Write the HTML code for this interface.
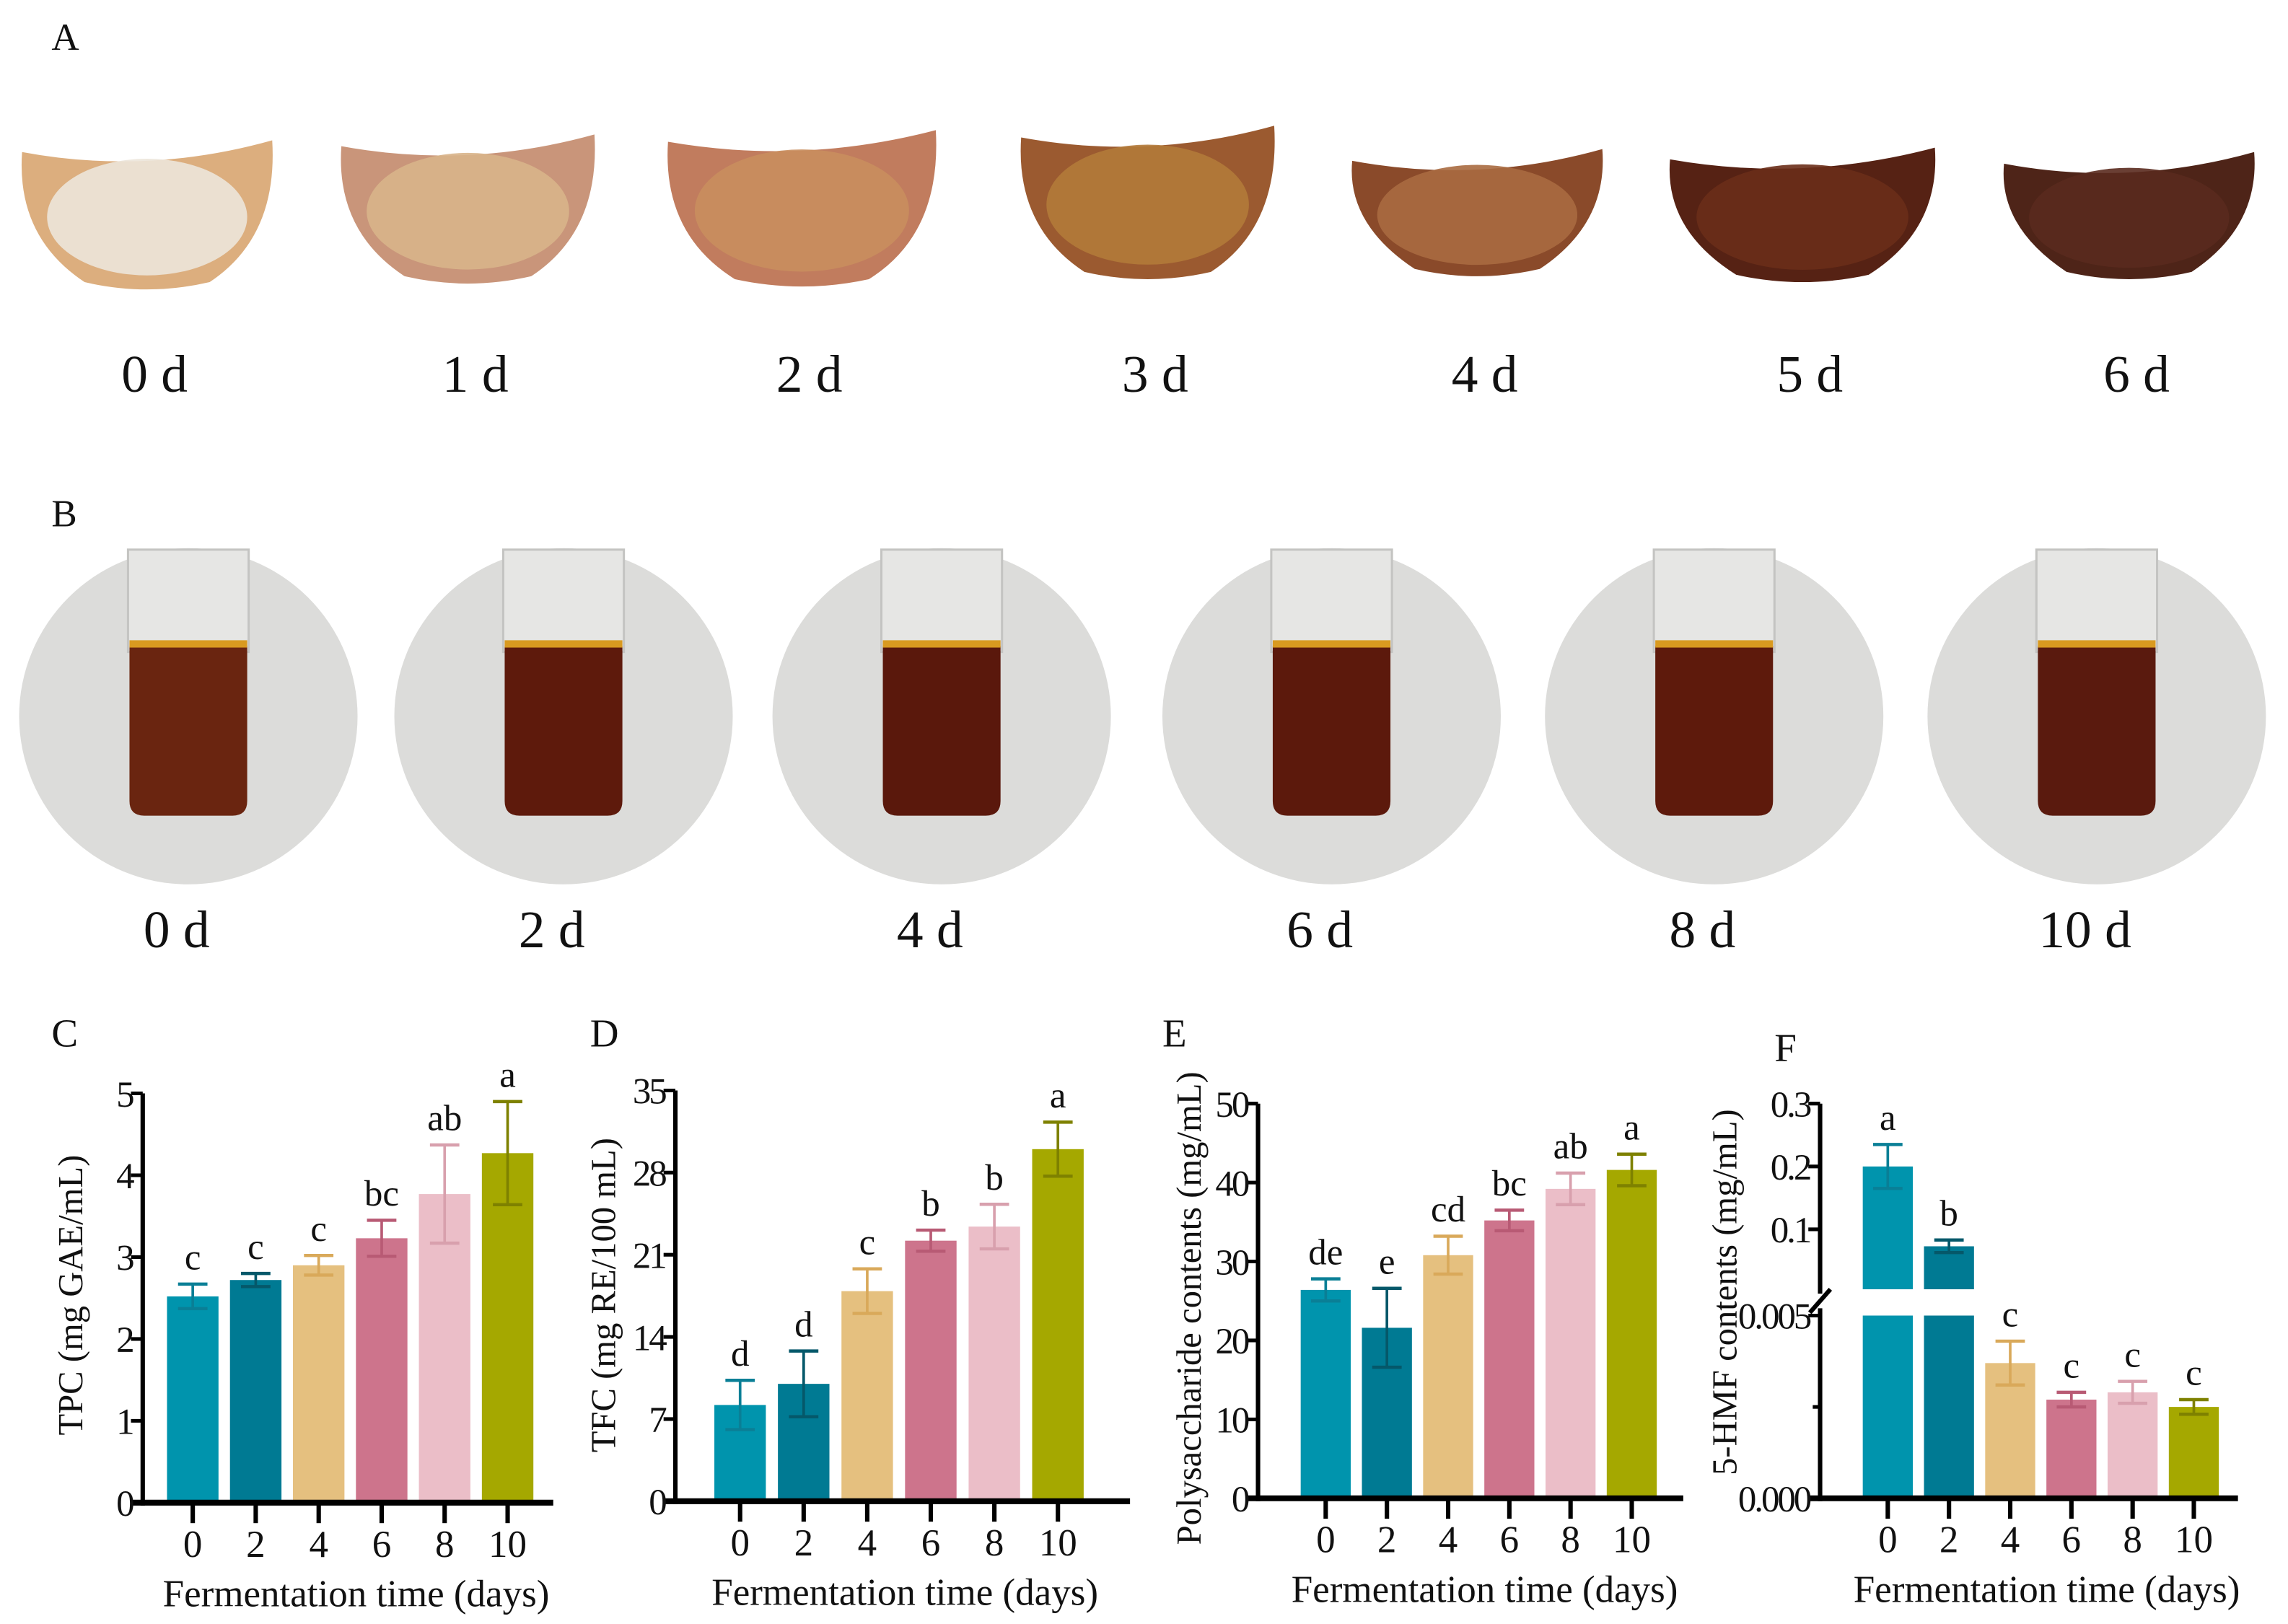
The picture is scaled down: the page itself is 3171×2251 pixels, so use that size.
<!DOCTYPE html>
<html><head><meta charset="utf-8">
<style>
html,body{margin:0;padding:0;background:#fff;}
svg{display:block;}
text{font-family:"Liberation Serif",serif;fill:#111;}
</style></head>
<body>
<svg id="fig" width="3171" height="2251" viewBox="0 0 1555 1111" preserveAspectRatio="none" xmlns="http://www.w3.org/2000/svg">
<rect width="1555" height="1111" fill="#fff"/>
<text x="35" y="34" font-size="26">A</text>
<text x="35" y="360" font-size="26">B</text>
<text x="35" y="716" font-size="27">C</text>
<text x="401" y="716" font-size="27">D</text>
<text x="790" y="716" font-size="27">E</text>
<text x="1206" y="726" font-size="27">F</text>
<g id="photosA"></g>
<g id="photosB"></g>
<g id="charts"></g>
</svg>
<script>
const NS="http://www.w3.org/2000/svg";
function mk(parent,tag,attrs,txt){const e=document.createElementNS(NS,tag);for(const k in attrs)e.setAttribute(k,attrs[k]);if(txt!==undefined)e.textContent=txt;parent.appendChild(e);return e;}

/* ---- Panel A photos ---- */
const aLabels=["0 d","1 d","2 d","3 d","4 d","5 d","6 d"];
const aCx=[100,318,545,780,1004,1225,1447];
const aW=[170,172,182,172,170,180,170];
const aTop=[92,88,85,82,98,97,100];
const aBot=[197,193,195,190,188,192,190];
const aFill=["#dcae7e","#c9957a","#c17c5e","#9b5a30","#8a4a2a","#562214","#4e2418"];
const aInner=["#ece6da","#d8b48a","#c98e5e","#b27a3a","#a86a40","#6a2e18","#5a2a1e"];
const gA=document.getElementById('photosA');
aLabels.forEach((lab,i)=>{
  const cx=aCx[i],w=aW[i],t=aTop[i],b=aBot[i];
  const d=`M${cx-w/2},${t+12} Q${cx},${t+28} ${cx+w/2},${t+4} Q${cx+w/2+4},${b-35} ${cx+w/4},${b-4} Q${cx},${b+6} ${cx-w/4},${b-4} Q${cx-w/2-4},${b-35} ${cx-w/2},${t+12} Z`;
  const p=mk(gA,'path',{d:d,fill:aFill[i]});
  
  
  mk(gA,'ellipse',{cx:cx,cy:(t+b)/2+4,rx:w*0.40,ry:(b-t)*0.38,fill:aInner[i],opacity:0.9});
  const tx=mk(gA,'text',{x:cx+5,y:268,'font-size':36,'text-anchor':'middle'},lab);
  
  
});

/* ---- Panel B photos ---- */
const bLabels=["0 d","2 d","4 d","6 d","8 d","10 d"];
const bCx=[128,383,640,905,1165,1425];
const bLiquid=["#6a2510","#5e1a0c","#5a180c","#5c190c","#5e1a0c","#5a1a0e"];
const gB=document.getElementById('photosB');
bLabels.forEach((lab,i)=>{
  const cx=bCx[i];
  const c=mk(gB,'circle',{cx:cx,cy:490,r:115,fill:"#dcdcda"});
  
  
  mk(gB,'rect',{x:cx-41,y:376,width:82,height:70,fill:"#e6e6e4",stroke:"#c4c4c2","stroke-width":1.5});
  mk(gB,'path',{d:`M${cx-40},442 L${cx+40},442 L${cx+40},548 Q${cx+40},558 ${cx+30},558 L${cx-30},558 Q${cx-40},558 ${cx-40},548 Z`,fill:bLiquid[i]});
  mk(gB,'rect',{x:cx-40,y:438,width:80,height:5,fill:"#d99a20"});
  const tx=mk(gB,'text',{x:cx-8,y:648,'font-size':36,'text-anchor':'middle'},lab);
  
  
});

/* ---- Charts data ---- */
const categories=["0","2","4","6","8","10"];
const barColors=["#0094ad","#007a93","#e5c07f","#cd748c","#ebbec8","#a5a800"];
const errColors=["#0a7f96","#05586a","#d9a95a","#b85a74","#d8a0ad","#7e8100"];

const tpcValues=[2.52,2.72,2.9,3.23,3.77,4.27];
const tpcErrors=[0.15,0.08,0.12,0.22,0.6,0.63];
const tpcLetters=["c","c","c","bc","ab","a"];
const tpcTicks=[0,1,2,3,4,5];

const tfcValues=[8.2,10.0,17.9,22.2,23.4,30.0];
const tfcErrors=[2.1,2.8,1.9,0.9,1.9,2.3];
const tfcLetters=["d","d","c","b","b","a"];
const tfcTicks=[0,7,14,21,28,35];

const polyValues=[26.4,21.6,30.8,35.2,39.2,41.6];
const polyErrors=[1.4,5.0,2.4,1.3,2.0,2.0];
const polyLetters=["de","e","cd","bc","ab","a"];
const polyTicks=[0,10,20,30,40,50];

const hmfValues=[0.2,0.073,0.0037,0.0027,0.0029,0.0025];
const hmfErrors=[0.035,0.01,0.0006,0.0002,0.0003,0.0002];
const hmfLetters=["a","b","c","c","c","c"];
const hmfUpperTicks=["0.1","0.2","0.3"];
const hmfLowerTicks=["0.000","0.005"];

const G=document.getElementById('charts');
const TF=25, XF=26, LF=25;

function ytick(g,ax,y,label){
  mk(g,'line',{x1:ax-8,y1:y,x2:ax,y2:y,stroke:"#000","stroke-width":2.5});
  const t=mk(g,'text',{x:ax-7,y:y+9,'font-size':TF,'text-anchor':'end','letter-spacing':-1.5},label);
  
}
function xaxisParts(g,y0,centers){
  centers.forEach((cx,i)=>{
    mk(g,'line',{x1:cx,y1:y0,x2:cx,y2:y0+14,stroke:"#000","stroke-width":3});
    const t=mk(g,'text',{x:cx,y:y0+37,'font-size':XF,'text-anchor':'middle'},categories[i]);
    
  });
  const xt=mk(g,'text',{x:(centers[0]+centers[5])/2+4,y:y0+71,'font-size':XF,'text-anchor':'middle'},"Fermentation time (days)");
  
}
function axes(g,ax,y0,yTop,xEnd,centers,tickVals,tickLabels,yScale,ytitle,tcx,tcy){
  const yl=mk(g,'line',{x1:ax,y1:yTop,x2:ax,y2:y0+2,stroke:"#000","stroke-width":3});
  
  const xl=mk(g,'line',{x1:ax-8,y1:y0,x2:xEnd,y2:y0,stroke:"#000","stroke-width":4});
  
  tickVals.forEach((v,i)=>ytick(g,ax,yScale(v),tickLabels[i]));
  xaxisParts(g,y0,centers);
  const yt=mk(g,'text',{x:tcx,y:tcy,'font-size':24,'text-anchor':'middle',transform:`rotate(-90 ${tcx} ${tcy})`},ytitle);
  
}
function errbar(g,cx,hi,lo,col){
  mk(g,'line',{x1:cx,y1:hi,x2:cx,y2:lo,stroke:col,"stroke-width":1.8});
  mk(g,'line',{x1:cx-10,y1:hi,x2:cx+10,y2:hi,stroke:col,"stroke-width":2.2});
  mk(g,'line',{x1:cx-10,y1:lo,x2:cx+10,y2:lo,stroke:col,"stroke-width":2.2});
}
function letter(g,cx,y,l){
  const t=mk(g,'text',{x:cx,y:y,'font-size':LF,'text-anchor':'middle'},l);
  
}
function bar(g,cx,bw,yv,ybase,color,ecolor,yHi,yLo,l,idx){
  const r=mk(g,'rect',{x:cx-bw/2,y:yv,width:bw,height:ybase-yv,fill:color});
  
  errbar(g,cx,yHi,yLo,ecolor);
  letter(g,cx,yHi-10,l);
}
function simpleChart(name,ax,y0,yTop,xEnd,c0,pitch,bw,vals,errs,letters,ticks,ytitle,tcx,tcy){
  const g=mk(G,'g',{});
  
  const maxT=ticks[ticks.length-1];
  const ys=v=>y0-(v/maxT)*(y0-yTop);
  const centers=categories.map((c,i)=>c0+i*pitch);
  vals.forEach((v,i)=>bar(g,centers[i],bw,ys(v),y0-1,barColors[i],errColors[i],ys(v+errs[i]),ys(v-errs[i]),letters[i],i));
  axes(g,ax,y0,yTop,xEnd,centers,ticks,ticks.map(String),ys,ytitle,tcx,tcy);
}
simpleChart('chart-tpc',97,1028,748,376,131,42.8,35,tpcValues,tpcErrors,tpcLetters,tpcTicks,"TPC (mg GAE/mL)",56,886);
simpleChart('chart-tfc',459,1027,746,768,503,43.2,35,tfcValues,tfcErrors,tfcLetters,tfcTicks,"TFC (mg RE/100 mL)",418,886);
simpleChart('chart-polysaccharide',855,1025,755,1144,901,41.6,34,polyValues,polyErrors,polyLetters,polyTicks,"Polysaccharide contents (mg/mL)",816,895);

/* ---- Broken-axis chart F ---- */
(function(){
  const g=mk(G,'g',{});
  
  const ax=1237,y0=1025,yLowTop=900,upperZero=884,upperTop=755,upperCut=882;
  const yLow=v=>y0-(v/0.005)*(y0-yLowTop);
  const yUp=v=>upperZero-(v/0.3)*(upperZero-upperTop);
  const centers=categories.map((c,i)=>1283+i*41.6);
  const bw=34;
  hmfValues.forEach((v,i)=>{
    const cx=centers[i];
    if(v>0.005){
      const r1=mk(g,'rect',{x:cx-bw/2,y:yUp(v),width:bw,height:upperCut-yUp(v),fill:barColors[i]});
      
      const r2=mk(g,'rect',{x:cx-bw/2,y:yLowTop,width:bw,height:y0-1-yLowTop,fill:barColors[i]});
      
      const hi=yUp(v+hmfErrors[i]),lo=yUp(v-hmfErrors[i]);
      errbar(g,cx,hi,lo,errColors[i]);
      letter(g,cx,hi-10,hmfLetters[i]);
    } else {
      bar(g,cx,bw,yLow(v),y0-1,barColors[i],errColors[i],yLow(v+hmfErrors[i]),yLow(v-hmfErrors[i]),hmfLetters[i],i);
    }
  });
  const yl1=mk(g,'line',{x1:ax,y1:upperTop,x2:ax,y2:885,stroke:"#000","stroke-width":3});
  
  const yl2=mk(g,'line',{x1:ax,y1:895,x2:ax,y2:y0+2,stroke:"#000","stroke-width":3});
  
  mk(g,'line',{x1:ax-7,y1:898,x2:ax+7,y2:882,stroke:"#000","stroke-width":3});
  const xl=mk(g,'line',{x1:ax-8,y1:y0,x2:1521,y2:y0,stroke:"#000","stroke-width":4});
  
  hmfUpperTicks.forEach(l=>ytick(g,ax,yUp(parseFloat(l)),l));
  hmfLowerTicks.forEach(l=>ytick(g,ax,yLow(parseFloat(l)),l));
  mk(g,'line',{x1:ax-5,y1:yLow(0.0025),x2:ax,y2:yLow(0.0025),stroke:"#000","stroke-width":2.5});
  xaxisParts(g,y0,centers);
  const yt=mk(g,'text',{x:1180,y:884,'font-size':24,'text-anchor':'middle',transform:"rotate(-90 1180 884)"},"5-HMF contents (mg/mL)");
  
})();
</script>
</body></html>
